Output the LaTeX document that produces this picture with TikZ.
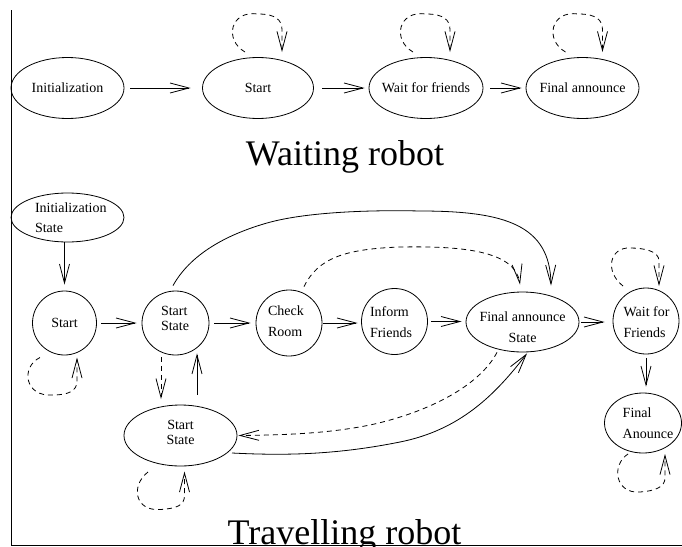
\documentclass[tikz,border=0pt]{standalone}
\usepackage{fontspec}
\setmainfont{Liberation Serif}
\usetikzlibrary{arrows.meta,shapes.geometric}
\tikzset{
  st/.style={draw, ellipse, inner sep=0pt, line width=0.8pt},
  tx/.style={inner sep=0pt, font=\fontsize{14}{21}\selectfont, align=left},
  txc/.style={inner sep=0pt, font=\fontsize{14}{21}\selectfont, align=center},
  arr/.style={-{Straight Barb[length=19pt,width=10pt]}, line width=0.8pt},
  dsh/.style={dash pattern=on 5pt off 4pt},
  title/.style={inner sep=0pt, anchor=base, font=\fontsize{36}{40}\selectfont},
}
\begin{document}
\begin{tikzpicture}[x=1pt,y=-1pt]
\useasboundingbox (0,0) rectangle (682,546);
\fill[white] (0,0) rectangle (682,546);
\clip (0,0) rectangle (682,546);

% frame
\draw[line width=0.9pt] (11,10) -- (11,545) -- (682,545);

% ---------- Waiting robot ----------
\node[st, minimum width=113pt, minimum height=61pt] (i1) at (67.5,88) {};
\node[tx] (i1t) at (i1) {Initialization};
\node[st, minimum width=111pt, minimum height=61pt] (s1) at (258,88) {};
\node[tx] (s1t) at (s1) {Start};
\node[st, minimum width=114pt, minimum height=61pt] (w1) at (426,88) {};
\node[tx] (w1t) at (w1) {Wait for friends};
\node[st, minimum width=113pt, minimum height=61pt] (f1) at (582.5,88) {};
\node[tx] (f1t) at (f1) {Final announce};

\draw[arr, shorten <=6pt, shorten >=11.5pt] (i1.east) -- (s1.west);
\draw[arr, shorten <=8.5pt, shorten >=4pt] (s1.east) -- (w1.west);
\draw[arr, shorten <=7pt, shorten >=4pt] (w1.east) -- (f1.west);

\foreach \n/\d in {s1/0,w1/0,f1/-4}{
  \draw[arr,dsh] ([shift={(-13+\d,-36)}]\n.center)
    .. controls ([shift={(-34+\d,-48)}]\n.center) and ([shift={(-28+\d,-78)}]\n.center)
    .. ([shift={(0+\d,-74)}]\n.center)
    .. controls ([shift={(18+\d,-74)}]\n.center) and ([shift={(24+\d,-68)}]\n.center)
    .. ([shift={(24+\d,-58)}]\n.center) -- ([shift={(24+\d,-36)}]\n.center);
}

\node[title] (wt) at (345,165) {Waiting robot};

% ---------- Travelling robot ----------
\node[st, minimum width=113pt, minimum height=49pt] (i2) at (67.5,217.5) {};
\node[tx, font=\fontsize{14}{20}\selectfont] (i2t) at (70.8,218.2) {Initialization\\State};
\node[st, minimum width=64pt, minimum height=64pt] (s2) at (64.5,323) {};
\node[tx] (s2t) at (s2) {Start};
\node[st, minimum width=67pt, minimum height=64pt] (ss) at (175.5,323) {};
\node[tx, font=\fontsize{14}{15}\selectfont] (sst) at (175,318.2) {Start\\State};
\node[st, minimum width=66pt, minimum height=66pt] (cr) at (289,323) {};
\node[tx] (crt) at (286,321.7) {Check\\Room};
\node[st, minimum width=66pt, minimum height=66pt] (if) at (394.5,321.5) {};
\node[tx] (ift) at (391,321.7) {Inform\\Friends};
\node[st, minimum width=113pt, minimum height=60pt] (fa) at (522.5,322) {};
\node[txc] (fat) at (522.5,327.7) {Final announce\\State};
\node[st, minimum width=66pt, minimum height=66pt] (wf) at (646,321) {};
\node[tx] (wft) at (646.5,321.7) {Wait for\\Friends};
\node[st, minimum width=77pt, minimum height=60pt] (fn) at (643,423) {};
\node[tx] (fnt) at (648,423.7) {Final\\Anounce};
\node[st, minimum width=113pt, minimum height=61pt] (bs) at (180.5,435.5) {};
\node[txc, font=\fontsize{14}{15}\selectfont] (bst) at (180.5,432.7) {Start\\State};

% straight arrows
\draw[arr, shorten >=6pt] (s2.north |- i2.south) -- (s2.north);
\draw[arr, shorten <=4.5pt, shorten >=5pt] (s2.east) -- (ss.west);
\draw[arr, shorten <=5pt, shorten >=5pt] (ss.east) -- (cr.west);
\draw[arr, shorten <=1pt, shorten >=3.5pt] (cr.east) -- (cr.east -| if.west);
\draw[arr, shorten <=3.5pt, shorten >=4pt] (if.east) -- (if.east -| fa.west);
\draw[arr, shorten <=2pt, shorten >=8pt] (fa.east) -- (fa.east -| wf.west);
\draw[arr, shorten <=3.5pt, shorten >=6pt] (wf.south) -- (wf.south |- fn.north);
\draw[arr,dsh] ([shift={(-14.5,1.5)}]ss.south) -- ([shift={(-19.5,-5.5)}]bs.north);
\draw[arr] ([shift={(16.5,-10)}]bs.north) -- ([shift={(21.5,-2)}]ss.south);

% curved connectors
\draw[arr] ([shift={(-2.5,-5)}]ss.north)
  .. controls (190,255) and (225,235) .. (267,223)
  .. controls (309,211) and (380,210) .. (420,211)
  .. controls (505,211) and (550,225) .. ([shift={(28.5,-6)}]fa.north);
\draw[arr,dsh] ([shift={(15,-3)}]cr.north)
  .. controls (318,258) and (345,249) .. (400,247)
  .. controls (460,246) and (515,250) .. ([shift={(-2.5,-7)}]fa.north);
\draw[arr,dsh] ([xshift=-25.5pt]fa.south)
  .. controls (480,385) and (430,412) .. (370,425)
  .. controls (330,433) and (290,435) .. ([xshift=1pt]bs.east);
\draw[arr] ([shift={(51.5,17.5)}]bs.center)
  .. controls (290,456) and (340,454) .. (400,442)
  .. controls (460,430) and (495,395) .. ([shift={(4.5,1)}]fa.south);

% self loops
\draw[arr,dsh] ([shift={(-24.5,34.5)}]s2.center)
  .. controls ([shift={(-44,44)}]s2.center) and ([shift={(-40,74)}]s2.center)
  .. ([shift={(-12,72)}]s2.center)
  .. controls ([shift={(4,72)}]s2.center) and ([shift={(12.5,68)}]s2.center)
  .. ([shift={(12.5,58)}]s2.center) -- ([shift={(12.5,34.5)}]s2.center);
\draw[arr,dsh] ([shift={(-32.5,36.5)}]bs.center)
  .. controls ([shift={(-50,50)}]bs.center) and ([shift={(-46,76)}]bs.center)
  .. ([shift={(-20,74)}]bs.center)
  .. controls ([shift={(-4,73)}]bs.center) and ([shift={(4,70)}]bs.center)
  .. ([shift={(4,60)}]bs.center) -- ([shift={(4,36)}]bs.center);
\draw[arr,dsh] ([shift={(-15,31)}]fn.center)
  .. controls ([shift={(-32,42)}]fn.center) and ([shift={(-28,71)}]fn.center)
  .. ([shift={(-3,69)}]fn.center)
  .. controls ([shift={(12,68)}]fn.center) and ([shift={(22,64)}]fn.center)
  .. ([shift={(22,55)}]fn.center) -- ([shift={(22,31)}]fn.center);
\draw[arr,dsh] ([shift={(-23,-35)}]wf.center)
  .. controls ([shift={(-42,-50)}]wf.center) and ([shift={(-36,-74)}]wf.center)
  .. ([shift={(-16,-73)}]wf.center)
  .. controls ([shift={(-2,-73)}]wf.center) and ([shift={(13,-70)}]wf.center)
  .. ([shift={(13,-60)}]wf.center) -- ([shift={(13,-35)}]wf.center);

\node[title] (tt) at (344.5,544) {Travelling robot};
\end{tikzpicture}
\end{document}
